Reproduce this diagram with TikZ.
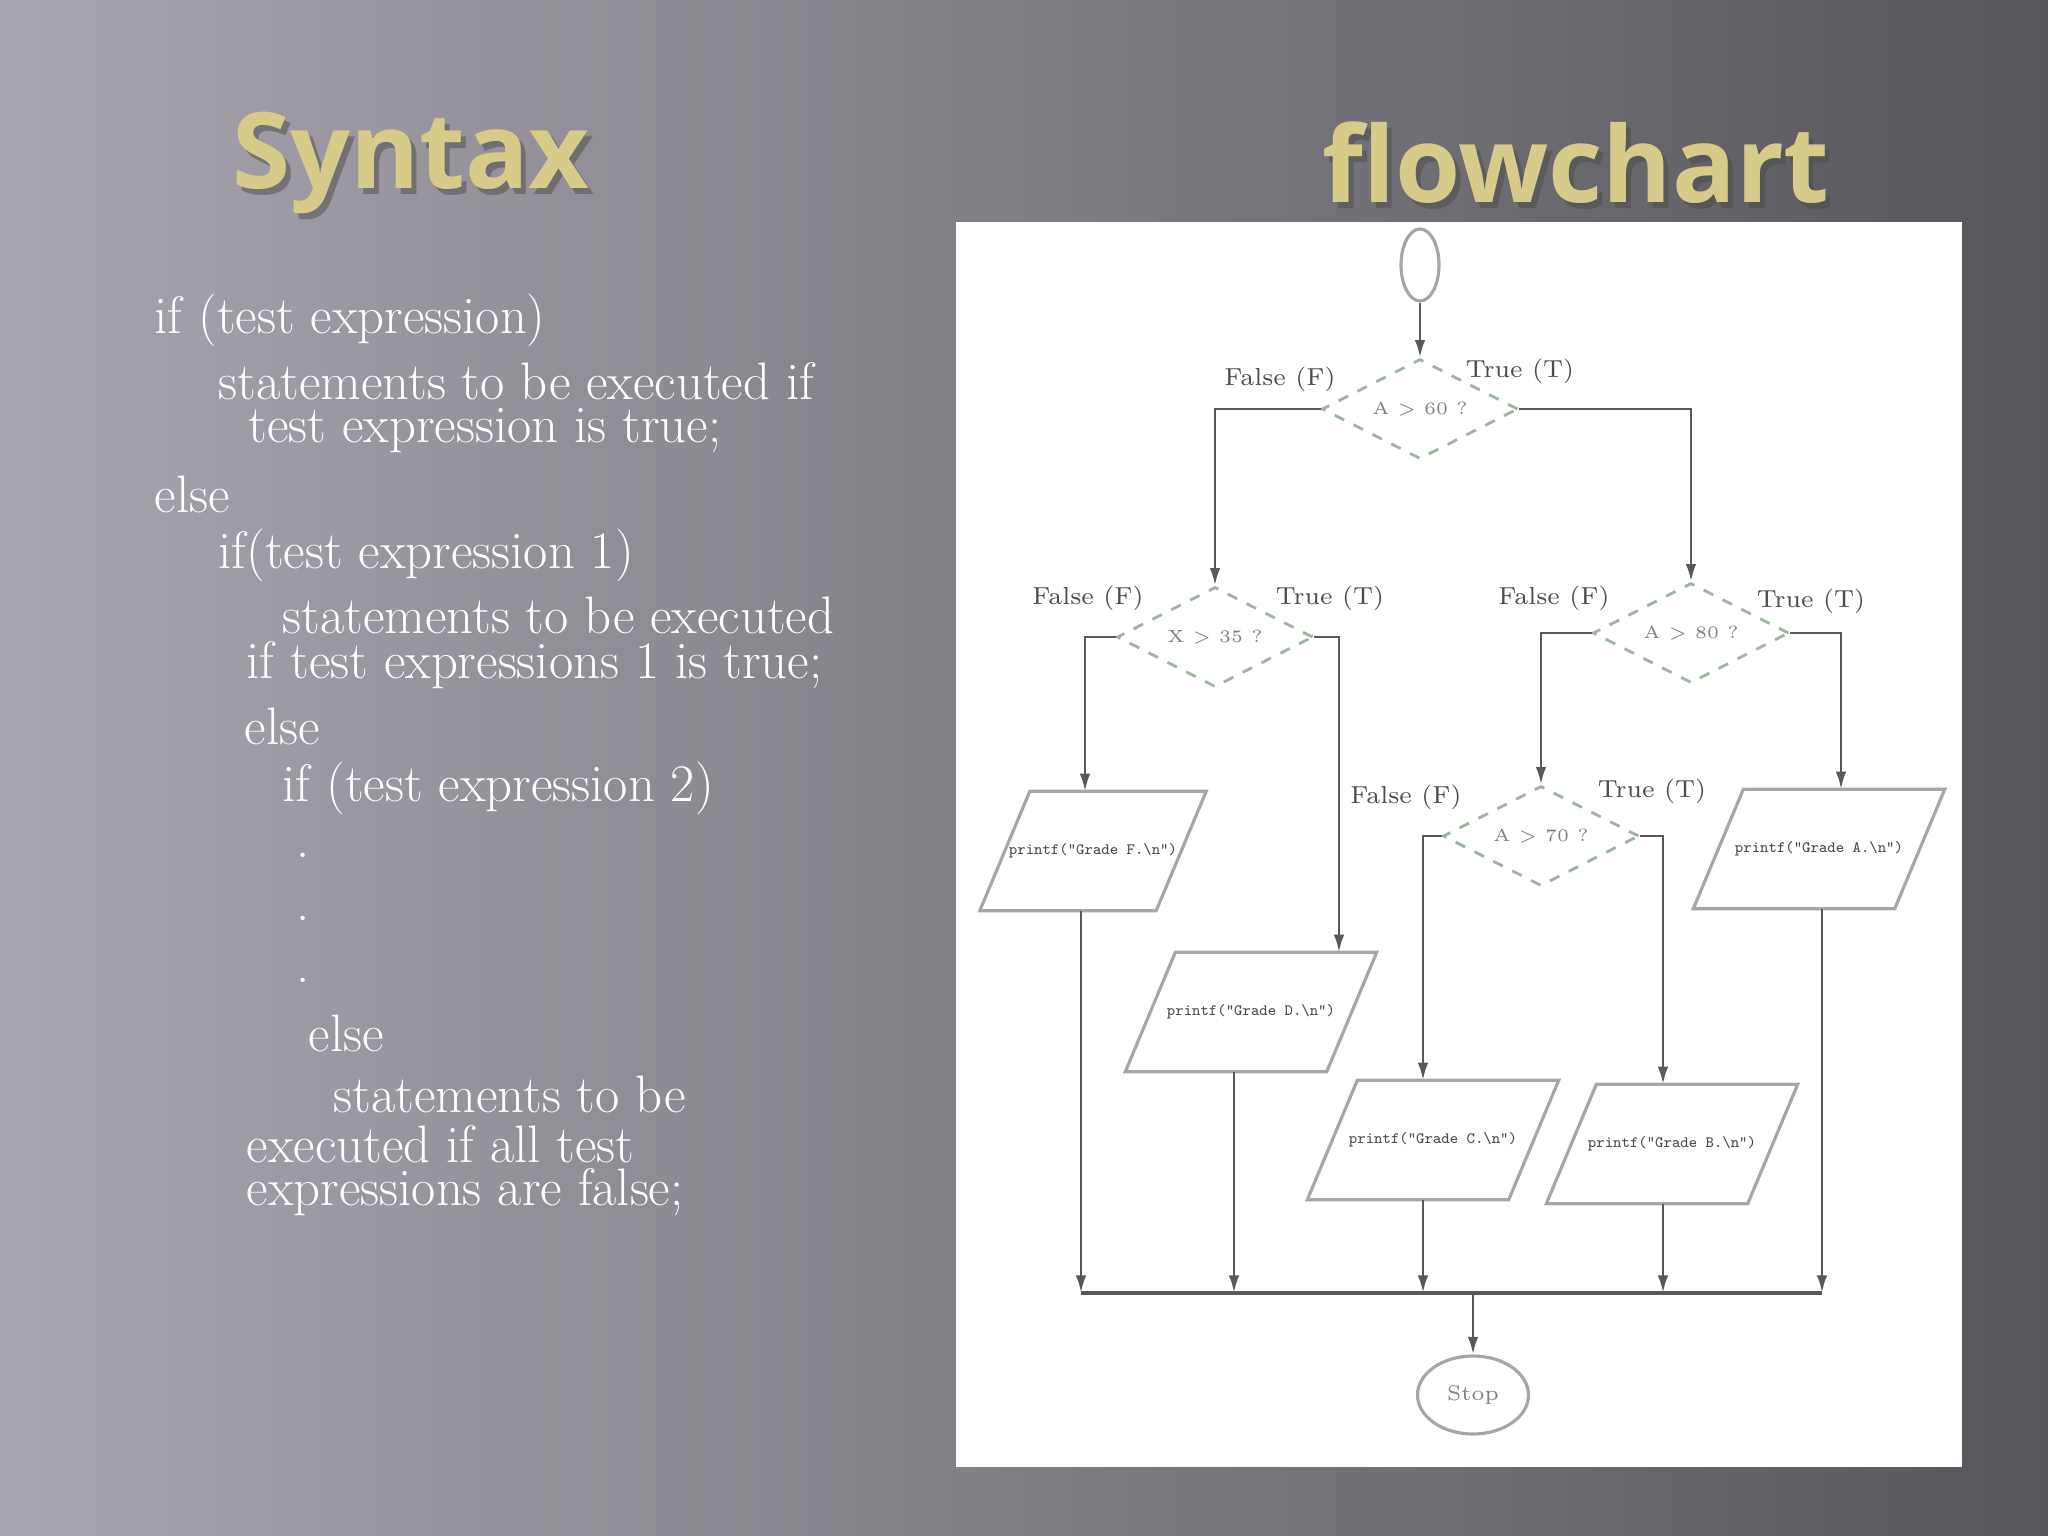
\documentclass[tikz,border=0pt]{standalone}
\usepackage{fontspec}
\setsansfont{Open Sans}
\usetikzlibrary{shapes.geometric,arrows.meta}
\definecolor{titlec}{HTML}{D6CB88}
\definecolor{dgreen}{HTML}{9DB59A}
\definecolor{bgl}{HTML}{A9A5AF}
\definecolor{bgr}{HTML}{56565A}
\newlength\pxu
\setlength\pxu{0.01cm}
\tikzset{
 syn/.style={anchor=west,inner sep=0pt,text=white,font=\fontsize{15}{17}\selectfont},
 ttl/.style={text=titlec,font=\sffamily\bfseries\fontsize{30}{36}\selectfont},
 shd/.style={text=black!70,opacity=0.5,font=\sffamily\bfseries\fontsize{30}{36}\selectfont},
 dec/.style={diamond,draw=dgreen,dashed,line width=0.8pt,minimum width=196\pxu,minimum height=100\pxu,inner sep=0pt,aspect=2,font=\fontsize{5}{6}\selectfont,text=gray},
 outp/.style={draw=none,font=\ttfamily\fontsize{4.5}{5}\selectfont,text=black!70},
 lbl/.style={inner sep=1pt,font=\fontsize{7}{8}\selectfont,text=black!70},
 con/.style={draw=black!65,line width=0.8pt},
 arr/.style={con,-{Latex[length=5pt,width=3pt]}},
 term/.style={ellipse,draw=gray!70,line width=0.9pt,inner sep=0pt,font=\fontsize{6}{7}\selectfont,text=gray}
}
\newcommand{\paragram}[5]{% name, cx, cy, w, text
 \node[outp,minimum width=#4\pxu,minimum height=118\pxu] (#1) at (#2,#3) {#5};
 \draw[gray!70,line width=0.9pt] (#1.south west) -- ([xshift=50\pxu]#1.north west) -- (#1.north east) -- ([xshift=-50\pxu]#1.south east) -- cycle;}
\begin{document}
\begin{tikzpicture}[x=0.01cm,y=-0.01cm]
\useasboundingbox (0,0) rectangle (2048,1536);
\shade[left color=bgl, right color=bgr] (0,0) rectangle (2048,1536);
% titles
\node[shd] at (416,169) {Syntax};
\node[ttl] (t1) at (411,163) {Syntax};
\node[shd] at (1581,169) {flowchart};
\node[ttl] (t2) at (1576,163) {flowchart};
% syntax text
\node[syn] at (154,320) {if (test expression)};
\node[syn] at (218,381) {statements to be executed if};
\node[syn] at (248,431) {test expression is true;};
\node[syn] at (154,494) {else};
\node[syn] at (218,555) {if(test expression 1)};
\node[syn] at (282,615) {statements to be executed};
\node[syn] at (246,665) {if test expressions 1 is true;};
\node[syn] at (244,726) {else};
\node[syn] at (282,788) {if (test expression 2)};
\node[syn] at (296,855) {.};
\node[syn] at (296,918) {.};
\node[syn] at (296,980) {.};
\node[syn] at (308,1033) {else};
\node[syn] at (333,1094) {statements to be};
\node[syn] at (246,1144) {executed if all test};
\node[syn] at (246,1192) {expressions are false;};
% panel
\fill[white] (956,222) rectangle (1962,1467);
% flowchart
\node[term,minimum width=38\pxu,minimum height=72\pxu] (start) at (1420,265) {};
\node[dec] (d1) at (1420,409) {A > 60 ?};
\node[dec] (d2) at (1215,637) {X > 35 ?};
\node[dec] (d3) at (1691,633) {A > 80 ?};
\node[dec] (d4) at (1541,836) {A > 70 ?};
\paragram{gf}{1093}{851}{225}{printf("Grade F.\textbackslash n")}
\paragram{gd}{1251}{1012}{250}{printf("Grade D.\textbackslash n")}
\paragram{gc}{1433}{1140}{250}{printf("Grade C.\textbackslash n")}
\paragram{gb}{1672}{1144}{250}{printf("Grade B.\textbackslash n")}
\paragram{ga}{1819}{849}{250}{printf("Grade A.\textbackslash n")}
\node[term,minimum width=111\pxu,minimum height=78\pxu] (stop) at (1473,1395) {Stop};
% labels
\node[lbl] at (1280,379) {False (F)};
\node[lbl] at (1520,371) {True (T)};
\node[lbl] at (1088,598) {False (F)};
\node[lbl] at (1330,598) {True (T)};
\node[lbl] at (1554,598) {False (F)};
\node[lbl] at (1811,601) {True (T)};
\node[lbl] at (1406,797) {False (F)};
\node[lbl] at (1652,791) {True (T)};
% connectors
\draw[arr] (start) -- (d1);
\draw[arr] (d1.west) -| (d2.north);
\draw[arr] (d1.east) -| (d3.north);
\draw[arr] (d2.west) -| (gf.north -| 1085,0);
\draw[arr] (d2.east) -| (gd.north -| 1339,0);
\draw[arr] (d3.west) -| (d4.north);
\draw[arr] (d3.east) -| (ga.north -| 1841,0);
\draw[arr] (d4.west) -| (gc.north -| 1423,0);
\draw[arr] (d4.east) -| (gb.north -| 1663,0);
\coordinate (busl) at (1081,1293);
\coordinate (busr) at (1822,1293);
\draw[con,line width=1.2pt] (busl) -- (busr);
\draw[arr] (gf.south -| 1081,0) -- (busl);
\draw[arr] (gd.south -| 1234,0) -- (1234,1293);
\draw[arr] (gc.south -| 1423,0) -- (1423,1293);
\draw[arr] (gb.south -| 1663,0) -- (1663,1293);
\draw[arr] (ga.south -| 1822,0) -- (busr);
\draw[arr] (1473,1293) -- (stop);
\end{tikzpicture}
\end{document}
